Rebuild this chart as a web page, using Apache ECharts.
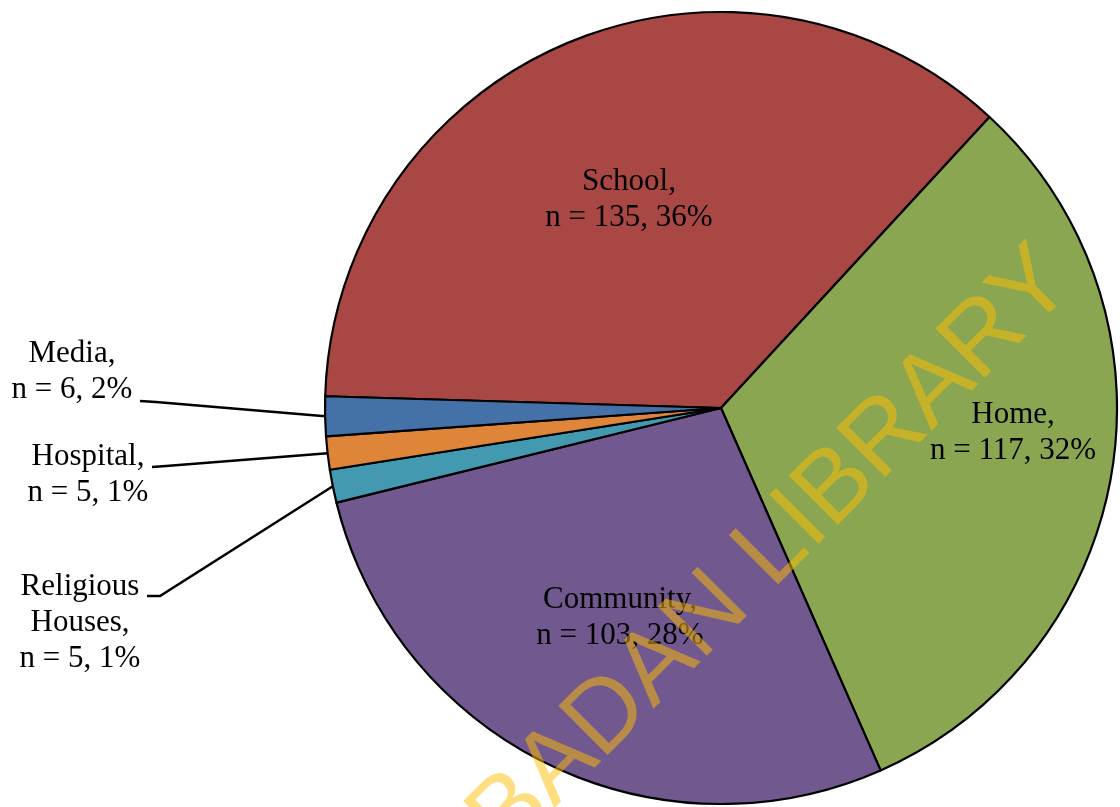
<!DOCTYPE html>
<html>
<head>
<meta charset="utf-8">
<script src="https://cdn.jsdelivr.net/npm/echarts@6/dist/echarts.min.js"></script>
<style>
  html, body { margin: 0; padding: 0; background: #fff; }
  #chart { width: 1120px; height: 807px; }
</style>
</head>
<body>
<div id="chart"></div>
<script>
// ---- data ----
const categories = ['School', 'Home', 'Community', 'Religious Houses', 'Hospital', 'Media'];
const counts = [135, 117, 103, 5, 5, 6];

// ---- styling / layout (not data) ----
const sliceColors = ['#A94745', '#8AA650', '#71598F', '#4299B0', '#DF8539', '#4472A8'];
const outsideSet = ['Religious Houses', 'Hospital', 'Media'];
const labelCenters = {
  'School': [629, 200],
  'Home': [1013, 433],
  'Community': [620, 618],
  'Religious Houses': [80, 623],
  'Hospital': [88, 475],
  'Media': [72, 372]
};
const leaderEnds = {
  'Religious Houses': [[160, 596], [147, 596]],
  'Hospital': [[166, 466], [152, 467]],
  'Media': [[156, 402], [140, 401]]
};

const chart = echarts.init(document.getElementById('chart'), null, { renderer: 'canvas' });

const seriesData = categories.map((name, i) => {
  const outside = outsideSet.indexOf(name) >= 0;
  return {
    name: name,
    value: counts[i],
    itemStyle: { color: sliceColors[i] },
    labelLine: { show: outside, length: 20, length2: 20, lineStyle: { color: '#000', width: 2.5 } }
  };
});

chart.setOption({
  animation: false,
  backgroundColor: '#ffffff',
  series: [{
    type: 'pie',
    center: [721, 408],
    radius: [0, 396],
    startAngle: 178.3,
    clockwise: true,
    avoidLabelOverlap: false,
    percentPrecision: 0,
    itemStyle: { borderColor: '#000', borderWidth: 2.2 },
    emphasis: { disabled: true },
    label: {
      show: true,
      position: 'outside',
      color: '#000',
      fontFamily: '"Liberation Serif", "Times New Roman", serif',
      fontSize: 31,
      lineHeight: 36,
      align: 'center',
      formatter: function (p) {
        return p.name.replace(' ', '\n') + ',\nn = ' + p.value + ', ' + p.percent + '%';
      }
    },
    labelLayout: function (params) {
      const name = categories[params.dataIndex];
      const c = labelCenters[name];
      const res = { x: c[0], y: c[1], align: 'center', verticalAlign: 'middle' };
      const ends = leaderEnds[name];
      if (ends && params.labelLinePoints) {
        const p0 = params.labelLinePoints[0];
        res.labelLinePoints = [p0, ends[0], ends[1]];
      }
      return res;
    },
    data: seriesData
  }],
  graphic: [{
    type: 'text',
    z: 100,
    silent: true,
    x: 1057,
    y: 266,
    rotation: Math.PI / 4,
    style: {
      text: 'UNIVERSITY OF IBADAN LIBRARY',
      font: '101px "Liberation Sans", Arial, sans-serif',
      fill: 'rgba(255,190,0,0.5)',
      align: 'right',
      verticalAlign: 'middle'
    }
  }]
});
</script>
</body>
</html>
